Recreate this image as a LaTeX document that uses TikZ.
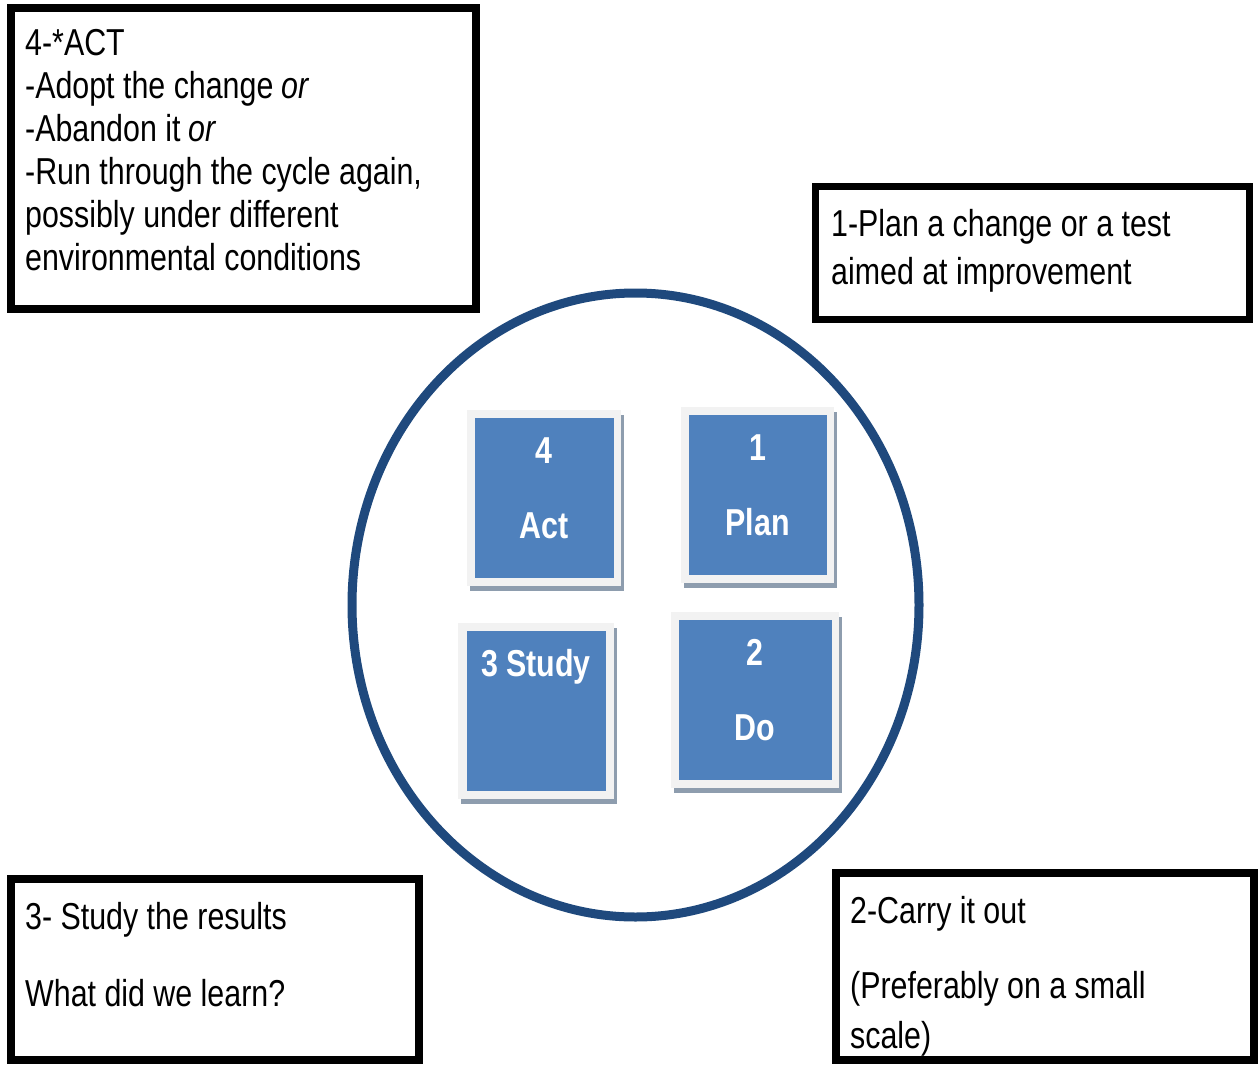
\documentclass[tikz,border=0pt]{standalone}
\usepackage{fontspec}
\setmainfont[FakeStretch=0.81]{Liberation Sans}
\usetikzlibrary{calc,shapes.geometric}
\definecolor{ringblue}{HTML}{1F497D}
\definecolor{tileblue}{HTML}{4F81BD}
\definecolor{tilerim}{HTML}{F2F2F2}
\definecolor{tileshade}{HTML}{8E9DAE}
\newcommand*{\fs}{\fontsize{37.5}{43}\selectfont}
\newcommand*{\lh}{42.8}
\tikzset{
	note/.style={
		draw=black,
		line width=7.5pt,
		fill=white,
		inner sep=0pt
	},
	line/.style={
		anchor=base west,
		inner sep=0pt,
		font=\fs
	},
	ring/.style={
		ellipse,
		draw=ringblue,
		line width=9pt,
		inner sep=0pt
	},
	rim/.style={
		fill=#1,
		minimum height=176,
		inner sep=0pt
	},
	core/.style={
		fill=tileblue,
		minimum height=160,
		inner sep=0pt
	},
	tiletext/.style={
		anchor=base,
		inner sep=0pt,
		text=white,
		font=\fs\bfseries
	}
}
\begin{document}
\begin{tikzpicture}[x=1pt,y=-1pt]
	\useasboundingbox (0,0) rectangle (1259,1065);
	% cycle
	\node (cycle) [ring, minimum width=567, minimum height=624] at (635.5,605) {};
	% the four steps
	\foreach \cx/\cy/\fw/\cw/\nm/\word [count=\i] in {%
		544/498/154/139/4/Act,%
		757.5/495/153/138/1/Plan,%
		536/710.5/156/139/3 Study/{},%
		755/700/168/153/2/Do%
	} {
		\node (sh\i) [rim=tileshade, minimum width=\fw] at (\cx+3,\cy+5) {};
		\node (rm\i) [rim=tilerim, minimum width=\fw] at (\cx,\cy) {};
		\node (c\i) [core, minimum width=\cw] at (\cx,\cy) {};
		\node (n\i) [tiletext] at ($(c\i.north)+(0,46)$) {\nm};
		\node (w\i) [tiletext] at ($(c\i.north)+(0,121)$) {\word};
	};
	% notes
	\node (actnote) [note, minimum width=465, minimum height=301] at (243.5,158.5) {};
	\node (plannote) [note, minimum width=434, minimum height=133] at (1032.5,253) {};
	\node (studynote) [note, minimum width=408, minimum height=181] at (215,969.5) {};
	\node (donote) [note, minimum width=418, minimum height=187] at (1045,966.5) {};
	\foreach \t [count=\i] in {4-*ACT, -Adopt the change \textit{or}, -Abandon it \textit{or},%
		{-Run through the cycle again,}, possibly under different, environmental conditions}
		\node (act\i) [line] at (25,{56+\lh*(\i-1)}) {\t};
	\node (plan1) [line] at (831,236) {1-Plan a change or a test};
	\node (plan2) [line] at (831,284) {aimed at improvement};
	\node (study1) [line] at (25,929) {3- Study the results};
	\node (study2) [line] at (25,1006) {What did we learn?};
	\node (do1) [line] at (850,923) {2-Carry it out};
	\node (do2) [line] at (850,998) {(Preferably on a small};
	\node (do3) [line] at (850,1048) {scale)};
\end{tikzpicture}
\end{document}
